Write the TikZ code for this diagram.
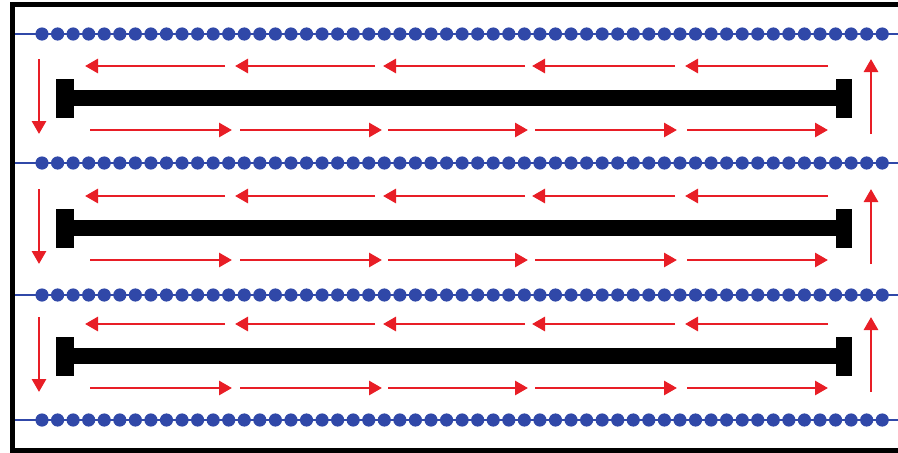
\documentclass[tikz,border=0pt]{standalone}
\usepackage{xcolor}
\usepackage{tikz}
\usetikzlibrary{arrows.meta}

\definecolor{railblue}{RGB}{48,72,168}
\definecolor{flowred}{RGB}{232,30,38}

\begin{document}
\begin{tikzpicture}[
    x=1pt, y=-1pt,
    frame/.style={draw=black, line width=5.5pt, line join=miter},
    rail/.style={draw=railblue, line width=1.6pt},
    bead/.style={fill=railblue},
    bar/.style={fill=black},
    flow/.style={draw=flowred, line width=2.8pt, -{Triangle[length=13pt, width=14pt]}}
]
\useasboundingbox (0,0) rectangle (898,453);

% outer frame (right side is cut off)
\draw[frame] (905,4.5) -- (12.5,4.5) -- (12.5,450.5) -- (905,450.5);

% beaded rails
\foreach \r in {34,163,295,420} {
    \draw[rail] (15,\r) -- (898,\r);
    \foreach \i in {0,...,54}
        \fill[bead] (42+\i*15.56,\r) circle (6.6pt);
}

% three bars with end caps and the flow around them
\foreach \y in {98,228,356} {
    \fill[bar] (56,\y-19) rectangle (74,\y+20);
    \fill[bar] (836,\y-19) rectangle (852,\y+20);
    \fill[bar] (74,\y-8) rectangle (836,\y+8);
    \draw[flow] (39,\y-39) -- (39,\y+36);
    \draw[flow] (871,\y+36) -- (871,\y-39);
    \foreach \a/\b in {225/85, 375/235, 525/383, 675/532, 828/685}
        \draw[flow] (\a,\y-32) -- (\b,\y-32);
    \foreach \a/\b in {90/232, 240/382, 388/528, 535/677, 687/828}
        \draw[flow] (\a,\y+32) -- (\b,\y+32);
}

\end{tikzpicture}
\end{document}
